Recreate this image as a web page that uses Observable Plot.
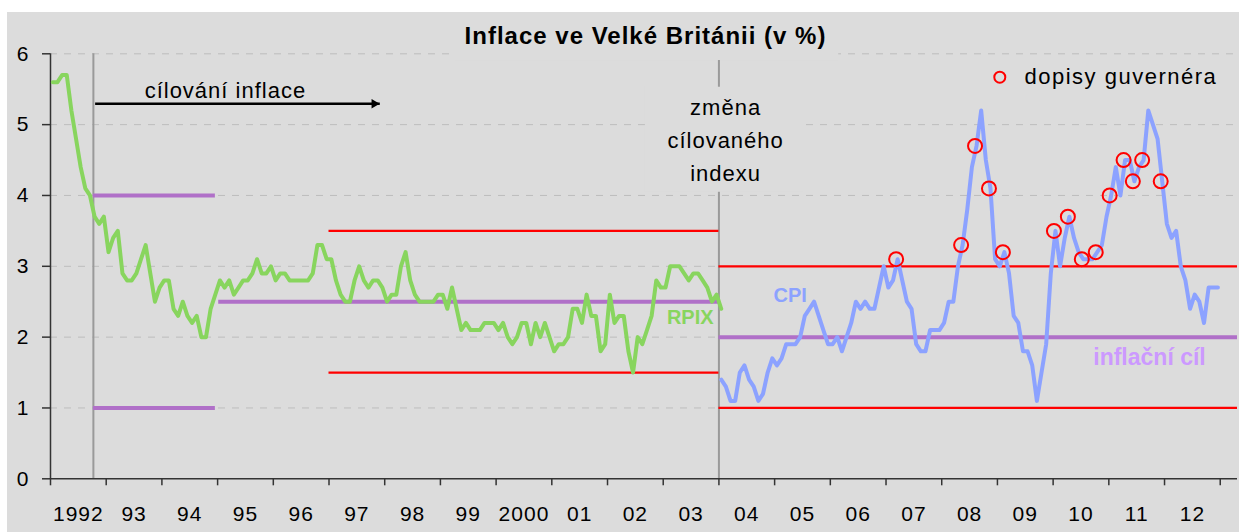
<!DOCTYPE html>
<html><head><meta charset="utf-8">
<script src="https://cdn.jsdelivr.net/npm/d3@7"></script>
<script src="https://cdn.jsdelivr.net/npm/@observablehq/plot@0.6"></script>
<style>
html,body{margin:0;padding:0;background:#fff;}
#wrap{position:absolute;left:7px;top:12px;width:1232px;height:520px;background:#DCDCDC;overflow:hidden;font-family:"Liberation Sans",Arial,sans-serif;}
#title{box-sizing:border-box;height:30px;padding-top:12px;padding-left:45px;line-height:24px;font-size:24px;font-weight:bold;letter-spacing:1px;color:#000;text-align:center;white-space:nowrap;}
#chart svg{overflow:visible;}
</style></head>
<body><div id="wrap"><div id="title">Inflace ve Velké Británii (v %)</div><div id="chart"></div></div>
<script>
// ---- data ----
const yTicks = [0, 1, 2, 3, 4, 5, 6];
const tickYears = d3.range(1992, 2014);
const yearLabels = ["1992","93","94","95","96","97","98","99","2000","01","02","03","04","05","06","07","08","09","10","11","12"];

// RPIX, monthly, Jan 1992 – Jan 2004 (% y/y)
const rpixStart = 1992;
const rpixValues = [
  5.6,5.6,5.7,5.7,5.2,4.8,4.4,4.1,4.0,3.7,3.6,3.7,
  3.2,3.4,3.5,2.9,2.8,2.8,2.9,3.1,3.3,2.9,2.5,2.7,
  2.8,2.8,2.4,2.3,2.5,2.3,2.2,2.3,2.0,2.0,2.4,2.6,
  2.8,2.7,2.8,2.6,2.7,2.8,2.8,2.9,3.1,2.9,2.9,3.0,
  2.8,2.9,2.9,2.8,2.8,2.8,2.8,2.8,2.9,3.3,3.3,3.1,
  3.1,2.8,2.6,2.5,2.5,2.8,3.0,2.8,2.7,2.8,2.8,2.7,
  2.5,2.6,2.6,3.0,3.2,2.8,2.6,2.5,2.5,2.5,2.5,2.6,
  2.6,2.4,2.7,2.4,2.1,2.2,2.1,2.1,2.1,2.2,2.2,2.2,
  2.1,2.2,2.0,1.9,2.0,2.2,2.2,1.9,2.2,2.0,2.2,2.0,
  1.8,1.9,1.9,2.0,2.4,2.4,2.2,2.6,2.3,2.3,1.8,1.9,
  2.6,2.2,2.3,2.3,1.8,1.5,2.0,1.9,2.1,2.3,2.8,2.7,
  2.7,3.0,3.0,3.0,2.9,2.8,2.9,2.9,2.8,2.7,2.5,2.6,
  2.4
];

// CPI, monthly, Jan 2004 – Dec 2012 (% y/y)
const cpiStart = 2004;
const cpiValues = [
  1.4,1.3,1.1,1.1,1.5,1.6,1.4,1.3,1.1,1.2,1.5,1.7,
  1.6,1.7,1.9,1.9,1.9,2.0,2.3,2.4,2.5,2.3,2.1,1.9,
  1.9,2.0,1.8,2.0,2.2,2.5,2.4,2.5,2.4,2.4,2.7,3.0,
  2.7,2.8,3.1,2.8,2.5,2.4,1.9,1.8,1.8,2.1,2.1,2.1,
  2.2,2.5,2.5,3.0,3.3,3.8,4.4,4.7,5.2,4.5,4.1,3.1,
  3.0,3.2,2.9,2.3,2.2,1.8,1.8,1.6,1.1,1.5,1.9,2.9,
  3.5,3.0,3.4,3.7,3.4,3.2,3.1,3.1,3.1,3.2,3.3,3.7,
  4.0,4.4,4.0,4.5,4.5,4.2,4.4,4.5,5.2,5.0,4.8,4.2,
  3.6,3.4,3.5,3.0,2.8,2.4,2.6,2.5,2.2,2.7,2.7,2.7
];

// governor's open letters (month, CPI value)
const letterMonths = ["2007-03","2008-05","2008-08","2008-11","2009-02","2010-01","2010-04","2010-07","2010-10","2011-01","2011-04","2011-06","2011-08","2011-12"];
const letterValues = [3.1,3.3,4.7,4.1,3.2,3.5,3.7,3.1,3.2,4.0,4.5,4.2,4.5,4.2];

// target / tolerance lines
const targetFrom  = [1992.77, 1992.77, 1995.02, 2004.0];
const targetTo    = [1994.96, 1994.96, 2004.0, 2013.31];
const targetValue = [4, 1, 2.5, 2];
const bandFrom  = [1997.0, 1997.0, 2004.0, 2004.0];
const bandTo    = [2004.0, 2004.0, 2013.31, 2013.31];
const bandValue = [3.5, 1.5, 3, 1];

// vertical markers: start of inflation targeting, change of targeted index
const markerX  = [1992.77, 2004.0];
const markerY2 = [6, 5.905];

// annotations
const noteText = ["cílování inflace", "změna\ncílovaného\nindexu"];
const noteX = [1995.14, 2004.12];
const noteY = [5.528, 4.822];
const seriesLabel = ["RPIX", "CPI", "inflační cíl"];
const seriesLabelX = [2003.485, 2005.28, 2011.73];
const seriesLabelY = [2.28, 2.586, 1.715];
const arrowFrom = 1992.81, arrowTo = 1997.92, arrowY = 5.294;
// background boxes behind title and the "změna" note
const boxX1 = [2002.68, 1999.27], boxX2 = [2005.52, 2006.15];
const boxY1 = [4.045, 5.905], boxY2 = [5.528, 6.03];

// ---- derived tables ----
const monthX = (start, i) => start + (i + 0.5) / 12;
const rpix = rpixValues.map((v, i) => ({x: monthX(rpixStart, i), v}));
const cpi = cpiValues.map((v, i) => ({x: monthX(cpiStart, i), v}));
const letters = letterMonths.map((m, i) => {
  const [yy, mm] = m.split("-").map(Number);
  return {x: monthX(yy, mm - 1), v: letterValues[i]};
});
const targets = targetValue.map((v, i) => ({x1: targetFrom[i], x2: targetTo[i], v}));
const bands = bandValue.map((v, i) => ({x1: bandFrom[i], x2: bandTo[i], v}));
const markers = markerX.map((x, i) => ({x, y2: markerY2[i]}));
const notes = noteText.map((t, i) => ({t, x: noteX[i], y: noteY[i]}));
const labels = seriesLabel.map((t, i) => ({t, x: seriesLabelX[i], y: seriesLabelY[i]}));
const yearLab = yearLabels.map((t, i) => ({t, x: tickYears[i] + 0.5}));
const boxes = boxX1.map((x1, i) => ({x1, x2: boxX2[i], y1: boxY1[i], y2: boxY2[i]}));
const arrow = [{x1: arrowFrom, x2: arrowTo, y: arrowY}];

const BG = "#DCDCDC", GREEN = "#88D55E", BLUE = "#8CA2FF", PURPLE = "#B070C8", LILAC = "#CC99FF", RED = "#FF0000";
const FONT = "'Liberation Sans', Arial, sans-serif";

const chart = Plot.plot({
  width: 1232, height: 490,
  marginLeft: 43, marginRight: 2, marginTop: 11.3, marginBottom: 53.7,
  style: {background: "transparent", fontFamily: FONT, fontSize: "21px", color: "#000", letterSpacing: "1px", overflow: "visible"},
  x: {domain: [1992, 2013.31]},
  y: {domain: [0, 6]},
  marks: [
    Plot.gridY(yTicks.filter(d => d > 0), {stroke: "#BDBDBD", strokeOpacity: 1, strokeWidth: 1, strokeDasharray: "7,7"}),
    Plot.ruleX(markers, {x: "x", y1: 0, y2: "y2", stroke: "#9A9A9A", strokeWidth: 2}),
    Plot.rect(boxes, {x1: "x1", x2: "x2", y1: "y1", y2: "y2", fill: BG}),
    Plot.ruleY(bands, {y: "v", x1: "x1", x2: "x2", stroke: RED, strokeWidth: 2.2}),
    Plot.ruleY(targets, {y: "v", x1: "x1", x2: "x2", stroke: PURPLE, strokeWidth: 4}),
    Plot.ruleY([yTicks[0]], {stroke: "#333", strokeWidth: 1.5}),
    Plot.ruleX([tickYears[0]], {y1: yTicks[0], y2: yTicks[yTicks.length - 1], stroke: "#333", strokeWidth: 1.5}),
    Plot.axisY({ticks: yTicks, tickSize: 8, tickPadding: 13, tickFormat: d => String(d), stroke: "#333", strokeWidth: 1.5, fontSize: 21, label: null}),
    Plot.axisX({ticks: tickYears, tickSize: 7, tickFormat: () => "", stroke: "#333", strokeWidth: 1.5, label: null}),
    Plot.text(yearLab, {x: "x", text: "t", frameAnchor: "bottom", lineAnchor: "middle", dy: 35, fontSize: 21}),
    Plot.line(rpix, {x: "x", y: "v", stroke: GREEN, strokeWidth: 4, strokeLinejoin: "round"}),
    Plot.line(cpi, {x: "x", y: "v", stroke: BLUE, strokeWidth: 4, strokeLinejoin: "round"}),
    Plot.dot(letters, {x: "x", y: "v", r: 7, stroke: RED, strokeWidth: 2, fill: "none", dx: -1.5}),
    Plot.ruleY(arrow, {y: "y", x1: "x1", x2: "x2", stroke: "#000", strokeWidth: 2.5}),
    Plot.dot(arrow, {x: "x2", y: "y", symbol: "triangle2", rotate: 90, r: 4.5, fill: "#000", dx: -6}),
    Plot.text(notes, {x: "x", y: "y", text: "t", fontSize: 22, lineHeight: 1.49, fill: "#000"}),
    Plot.text(labels, {x: "x", y: "y", text: "t", fontWeight: "bold", fontSize: d => d.t === "inflační cíl" ? 23 : 20,
      fill: d => d.t === "RPIX" ? GREEN : d.t === "CPI" ? BLUE : LILAC}),
    Plot.dot(["o"], {frameAnchor: "top-right", dx: -237.7, dy: 23.4, r: 5.5, stroke: RED, strokeWidth: 2, fill: "none"}),
    Plot.text(["dopisy guvernéra"], {text: d => d, frameAnchor: "top-right", textAnchor: "start", lineAnchor: "middle", dx: -213, dy: 23.4, fontSize: 22})
  ]
});
document.getElementById("chart").appendChild(chart);
d3.select(chart).selectAll("text").filter(function () {
  return seriesLabel.includes(this.textContent);
}).style("letter-spacing", "0px");
d3.select(chart).selectAll("text").filter(function () {
  return this.textContent === "dopisy guvernéra";
}).style("letter-spacing", "1.5px");
</script>
</body></html>
